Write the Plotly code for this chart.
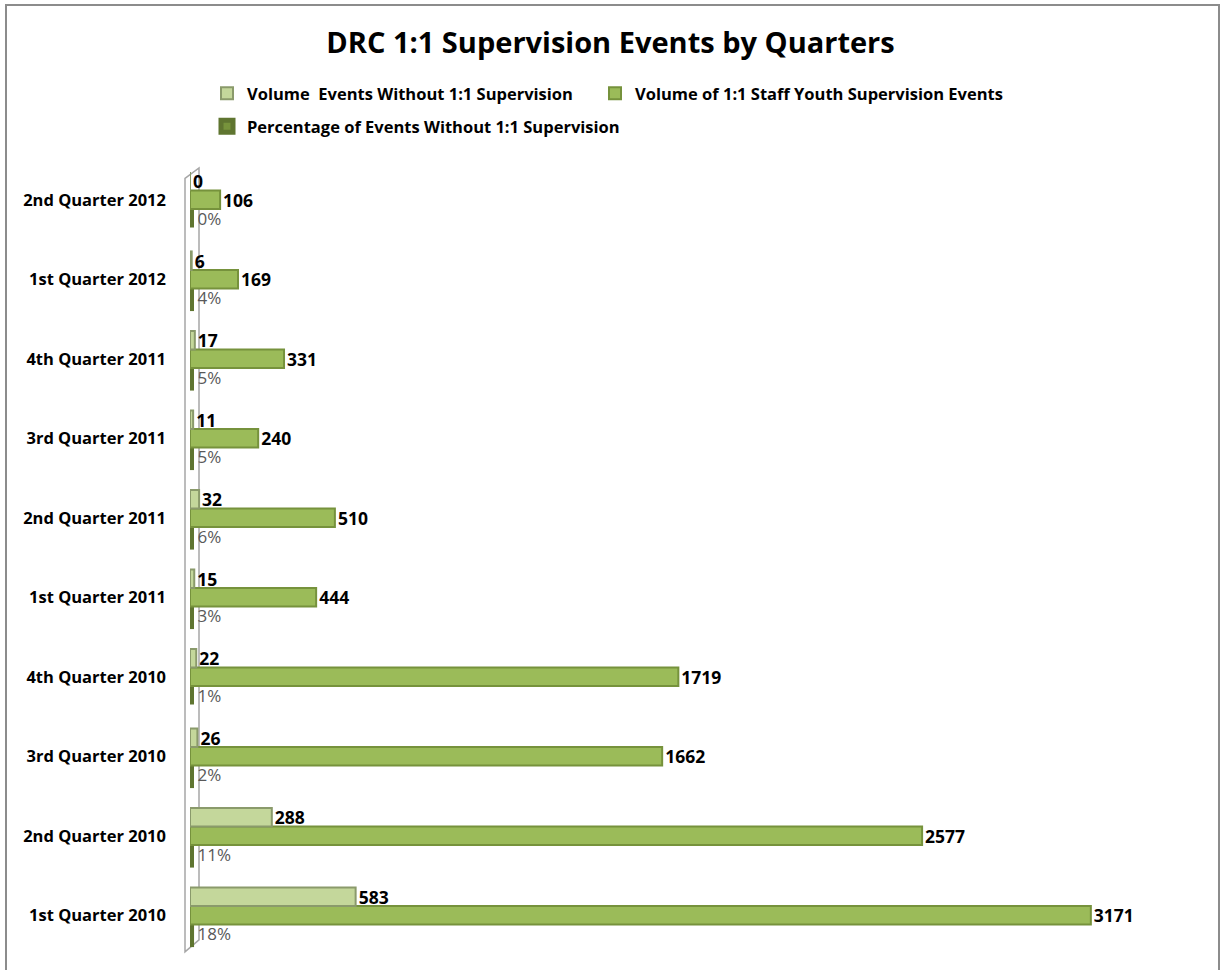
import plotly.graph_objects as go

categories = ["1st Quarter 2010", "2nd Quarter 2010", "3rd Quarter 2010", "4th Quarter 2010",
              "1st Quarter 2011", "2nd Quarter 2011", "3rd Quarter 2011", "4th Quarter 2011",
              "1st Quarter 2012", "2nd Quarter 2012"]
without_supervision = [583, 288, 26, 22, 15, 32, 11, 17, 6, 0]
staff_youth_events = [3171, 2577, 1662, 1719, 444, 510, 240, 331, 169, 106]
pct_without = [0.18, 0.11, 0.02, 0.01, 0.03, 0.06, 0.05, 0.05, 0.04, 0.00]

FONT = "Open Sans"
fig = go.Figure()

fig.add_trace(go.Bar(
    y=categories, x=pct_without, orientation="h",
    name="Percentage of Events Without 1:1 Supervision",
    legend="legend3",
    marker=dict(color="#77933c", line=dict(color="#5f7530", width=8)),
    texttemplate=" %{x:.0%}", textposition="outside", constraintext="none",
    textfont=dict(family=FONT, size=17, color="#595959"),
    cliponaxis=False,
))
fig.add_trace(go.Bar(
    y=categories, x=staff_youth_events, orientation="h",
    name="Volume of 1:1 Staff Youth Supervision Events",
    legend="legend2",
    marker=dict(color="#9bbb59", line=dict(color="#76923c", width=2)),
    texttemplate="%{x}", textposition="outside", constraintext="none",
    textfont=dict(family=FONT, size=17.5, color="#000000", weight="bold"),
    cliponaxis=False,
))
fig.add_trace(go.Bar(
    y=categories, x=without_supervision, orientation="h",
    name="Volume  Events Without 1:1 Supervision",
    legend="legend",
    marker=dict(color="#c4d79b", line=dict(color="#8a9a6b", width=2)),
    texttemplate="%{x}", textposition="outside", constraintext="none",
    textfont=dict(family=FONT, size=17.5, color="#000000", weight="bold"),
    cliponaxis=False,
))

shapes = [
    # chart border
    dict(type="rect", xref="paper", yref="paper", x0=-0.184, x1=1.029, y0=-0.03, y1=1.195,
         line=dict(color="#8c8c8c", width=2), layer="below"),
    # 3D wall
    dict(type="path", xref="paper", yref="paper",
         path="M -0.005,0.977 L 0.009,0.990 L 0.009,0.019 L -0.005,0.004 Z",
         line=dict(color="#a6a6a6", width=1.5), fillcolor="white", layer="below"),
]

legend_font = dict(family=FONT, size=16.5, color="#000000", weight="bold")

fig.update_layout(
    width=1221, height=970,
    margin=dict(l=190, r=31, t=160, b=15),
    paper_bgcolor="white", plot_bgcolor="white",
    barmode="group", bargap=0.3, bargroupgap=0,
    font=dict(family=FONT, color="#000000"),
    title=dict(text="<b>DRC 1:1 Supervision Events by Quarters</b>",
               x=0.5, xanchor="center", y=1 - 43 / 970, yanchor="middle",
               xref="container", yref="container",
               font=dict(family=FONT, size=29, color="#000000")),
    legend=dict(orientation="h",
                x=(207 - 190) / 1000, xanchor="left",
                y=(955 - 76) / 795, yanchor="top",
                font=legend_font, itemwidth=30),
    legend2=dict(orientation="h",
                 x=(595 - 190) / 1000, xanchor="left",
                 y=(955 - 76) / 795, yanchor="top",
                 font=legend_font, itemwidth=30),
    legend3=dict(orientation="h",
                 x=(207 - 190) / 1000, xanchor="left",
                 y=(955 - 109) / 795, yanchor="top",
                 font=legend_font, itemwidth=30),
    xaxis=dict(range=[0, 3520], visible=False, showgrid=False, zeroline=False),
    yaxis=dict(showline=False, ticks="", showgrid=False, zeroline=False,
               ticklabelstandoff=23,
               tickfont=dict(family=FONT, size=16.5, color="#000000", weight="bold")),
    shapes=shapes,
    showlegend=True,
)

fig.write_html("out.html")
